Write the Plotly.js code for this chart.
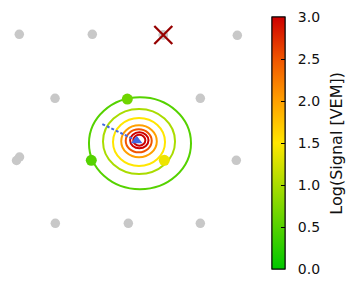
<!DOCTYPE html>
<html>
<head>
<meta charset="utf-8">
<script src="https://cdn.plot.ly/plotly-3.0.1.min.js"></script>
<style>html,body{margin:0;padding:0;background:#fff;}#chart{width:360px;height:300px;}</style>
</head>
<body>
<div id="chart"></div>
<script>
// Detector stations (metres, ground plane)
const stationX = [-2238, -728, 740, 2271, -1499, 1506, -2233, -2295, 2250, -1493, 17, 1506];
const stationY = [2600, 2600, 2585, 2579, 1276, 1276, 62, -10, -6, -1309, -1309, -1309];

// Stations with signal (metres) and their log10 signal
const sigX = [-4, -749, 761];
const sigY = [1261, -6, -6];
const sigLog = [0.65, 0.5, 1.4];

// Reconstructed core and arrival-direction arrow tail (metres)
const coreX = [190];
const coreY = [399];
const arrowX = [-521, 190];
const arrowY = [744, 399];

// Marked station (red cross)
const crossX = [740];
const crossY = [2585];

// Contour rings of the lateral distribution: level, centre and semi-axes (metres)
const ringLevel = [0.5, 1.0, 1.5, 2.0, 2.5, 3.0, 3.5];
const ringCX = [258, 238, 238, 238, 232, 244, 244];
const ringCY = [347, 383, 372, 387, 398, 408, 408];
const ringRX = [1055, 745, 538, 368, 269, 190, 125];
const ringRY = [951, 672, 496, 331, 238, 165, 112];

// Colour bar ticks
const tickVals = [0, 0.5, 1.0, 1.5, 2.0, 2.5, 3.0];
const tickText = ['0.0', '0.5', '1.0', '1.5', '2.0', '2.5', '3.0'];

const cmin = 0, cmax = 3;
const scale = [
  [0, [0, 200, 0]],
  [0.5, [255, 230, 0]],
  [0.6667, [255, 160, 0]],
  [0.8333, [240, 85, 0]],
  [1, [205, 0, 0]]
];
const colorscale = scale.map(s => [s[0], 'rgb(' + s[1].join(',') + ')']);
function colorAt(v) {
  let t = (v - cmin) / (cmax - cmin);
  t = Math.max(0, Math.min(1, t));
  for (let i = 1; i < scale.length; i++) {
    if (t <= scale[i][0]) {
      const a = scale[i - 1], b = scale[i];
      const f = (t - a[0]) / (b[0] - a[0]);
      const c = a[1].map((x, k) => Math.round(x + f * (b[1][k] - x)));
      return 'rgb(' + c.join(',') + ')';
    }
  }
  return 'rgb(' + scale[scale.length - 1][1].join(',') + ')';
}

const shapes = ringLevel.map((lv, i) => ({
  type: 'circle', xref: 'x', yref: 'y', layer: 'below',
  x0: ringCX[i] - ringRX[i], x1: ringCX[i] + ringRX[i],
  y0: ringCY[i] - ringRY[i], y1: ringCY[i] + ringRY[i],
  line: {color: colorAt(lv), width: 2}
}));

const font = 'DejaVu Sans, Bitstream Vera Sans, sans-serif';

const barBase = {
  xref: 'container', x: 272 / 360, xanchor: 'left',
  yref: 'container', y: 1 - 143.3 / 300, yanchor: 'middle',
  thickness: 13, thicknessmode: 'pixels', len: 252, lenmode: 'pixels',
  xpad: 0, ypad: 0, outlinewidth: 1, outlinecolor: '#000', borderwidth: 0,
  tickmode: 'array', tickvals: tickVals
};

const traces = [
  {
    type: 'scatter', mode: 'markers', x: stationX.concat(crossX), y: stationY.concat(crossY),
    marker: {size: 9.5, color: 'rgb(200,200,200)'}, hoverinfo: 'skip'
  },
  {
    type: 'scatter', mode: 'lines', x: arrowX, y: arrowY,
    line: {color: 'rgb(65,105,225)', width: 2, dash: '3px,2px'}, hoverinfo: 'skip'
  },
  {
    type: 'scatter', mode: 'markers', x: coreX, y: coreY,
    marker: {symbol: 'triangle-up', size: 10, color: 'rgb(65,105,225)'}, hoverinfo: 'skip'
  },
  {
    type: 'scatter', mode: 'markers', x: sigX, y: sigY,
    marker: {
      size: 11, color: sigLog, colorscale: colorscale, cmin: cmin, cmax: cmax,
      showscale: true,
      colorbar: Object.assign({}, barBase, {
        ticktext: tickText.map(t => t + '\u00a0'),
        ticks: 'outside', ticklen: 10, tickwidth: 1, tickcolor: 'rgba(0,0,0,0)',
        tickfont: {family: font, size: 14, color: '#111'},
        title: {text: 'Log(Signal [VEM])', side: 'right', font: {family: font, size: 16, color: '#111'}}
      })
    },
    hoverinfo: 'skip'
  },
  {
    // second copy of the colour bar that carries the inward tick marks
    type: 'scatter', mode: 'markers', x: sigX, y: sigY,
    marker: {
      size: 11, opacity: 0, color: sigLog, colorscale: colorscale, cmin: cmin, cmax: cmax,
      showscale: true,
      colorbar: Object.assign({}, barBase, {
        ticktext: tickText,
        ticks: 'inside', ticklen: 4, tickwidth: 1, tickcolor: '#000',
        showticklabels: false, title: {text: ''}
      })
    },
    hoverinfo: 'skip'
  },
  {
    type: 'scatter', mode: 'markers', x: crossX, y: crossY,
    marker: {symbol: 'x-thin-open', size: 18, color: 'rgb(150,0,0)', line: {width: 2.3, color: 'rgb(150,0,0)'}}, hoverinfo: 'skip'
  }
];

const layout = {
  width: 360, height: 300,
  margin: {l: 0, r: 100, t: 0, b: 0, pad: 0, autoexpand: false},
  paper_bgcolor: '#fff', plot_bgcolor: '#fff',
  showlegend: false,
  font: {family: font},
  xaxis: {range: [-2637, 2740], visible: false, fixedrange: true},
  yaxis: {range: [-2895, 3309], visible: false, fixedrange: true},
  shapes: shapes
};

Plotly.newPlot('chart', traces, layout, {staticPlot: true, displayModeBar: false});
</script>
</body>
</html>
